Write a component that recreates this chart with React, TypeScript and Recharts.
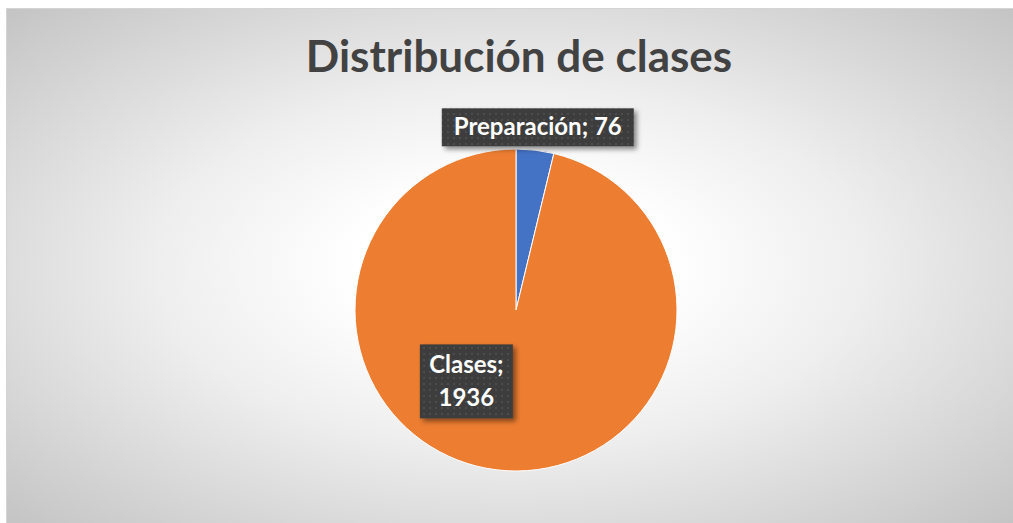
import React from "react";
import { PieChart, Pie, Cell } from "recharts";

const categories = ["Preparación", "Clases"];
const values = [76, 1936];
const colors = ["#4472C4", "#ED7D31"];
const title = "Distribución de clases";

const data = categories.map((name, i) => ({ name, value: values[i] }));

const W = 1007;
const H = 515;
const FONT = "Lato, 'Open Sans', sans-serif";
const RAD = Math.PI / 180;

const renderLabel = (props: any) => {
  const { cx, cy, midAngle, outerRadius, index, name, value } = props;
  if (index === 0) {
    const r = outerRadius + 23;
    const x = cx + r * Math.cos(-midAngle * RAD);
    const y = cy + r * Math.sin(-midAngle * RAD);
    const bw = 192;
    const bh = 38;
    return (
      <g>
        <rect x={x - bw / 2} y={y - bh / 2} width={bw} height={bh} fill="url(#dots)" filter="url(#shadow)" />
        <text x={x} y={y + 8} textAnchor="middle" fill="#ffffff" fontFamily={FONT} fontWeight={700} fontSize={24}>
          {`${name}; ${value}`}
        </text>
      </g>
    );
  }
  const r = outerRadius * 0.54;
  const ang = midAngle - 28;
  const x = cx + r * Math.cos(-ang * RAD);
  const y = cy + r * Math.sin(-ang * RAD);
  const bw = 93;
  const bh = 74;
  return (
    <g>
      <rect x={x - bw / 2} y={y - bh / 2} width={bw} height={bh} fill="url(#dots)" filter="url(#shadow)" />
      <text x={x} y={y - 8} textAnchor="middle" fill="#ffffff" fontFamily={FONT} fontWeight={700} fontSize={24}>
        {`${name};`}
      </text>
      <text x={x} y={y + 25} textAnchor="middle" fill="#ffffff" fontFamily={FONT} fontWeight={700} fontSize={24}>
        {`${value}`}
      </text>
    </g>
  );
};

export default function App() {
  return (
    <div
      style={{
        position: "absolute",
        left: 6,
        top: 8,
        width: W,
        height: H,
        boxSizing: "border-box",
        borderLeft: "1px solid #d4d4d4",
        borderTop: "1px solid #d4d4d4",
        background:
          "radial-gradient(ellipse farthest-corner at 50% 50%, #ffffff 0%, #ffffff 22%, #eeeeee 50%, #c4c4c4 100%)",
        overflow: "hidden",
      }}
    >
      <PieChart width={W - 1} height={H - 1} margin={{ top: 0, right: 0, bottom: 0, left: 0 }}>
        <defs>
          <pattern id="dots" width="6" height="6" patternUnits="userSpaceOnUse">
            <rect width="6" height="6" fill="#3d3d3d" />
            <rect x="2" y="2" width="2" height="2" fill="#4d4d4d" />
          </pattern>
          <filter id="shadow" x="-20%" y="-20%" width="150%" height="160%">
            <feDropShadow dx="3" dy="3" stdDeviation="2.5" floodColor="#000000" floodOpacity="0.45" />
          </filter>
        </defs>
        <text
          x={(W - 1) / 2 + 9}
          y={63}
          textAnchor="middle"
          fill="#424242"
          fontFamily={FONT}
          fontWeight={700}
          fontSize={44}
        >
          {title}
        </text>
        <Pie
          data={data}
          dataKey="value"
          nameKey="name"
          cx={509}
          cy={301}
          outerRadius={161}
          startAngle={90}
          endAngle={-270}
          stroke="#ffffff"
          strokeWidth={1}
          label={renderLabel}
          labelLine={false}
          isAnimationActive={false}
        >
          {data.map((d, i) => (
            <Cell key={d.name} fill={colors[i]} />
          ))}
        </Pie>
      </PieChart>
    </div>
  );
}
